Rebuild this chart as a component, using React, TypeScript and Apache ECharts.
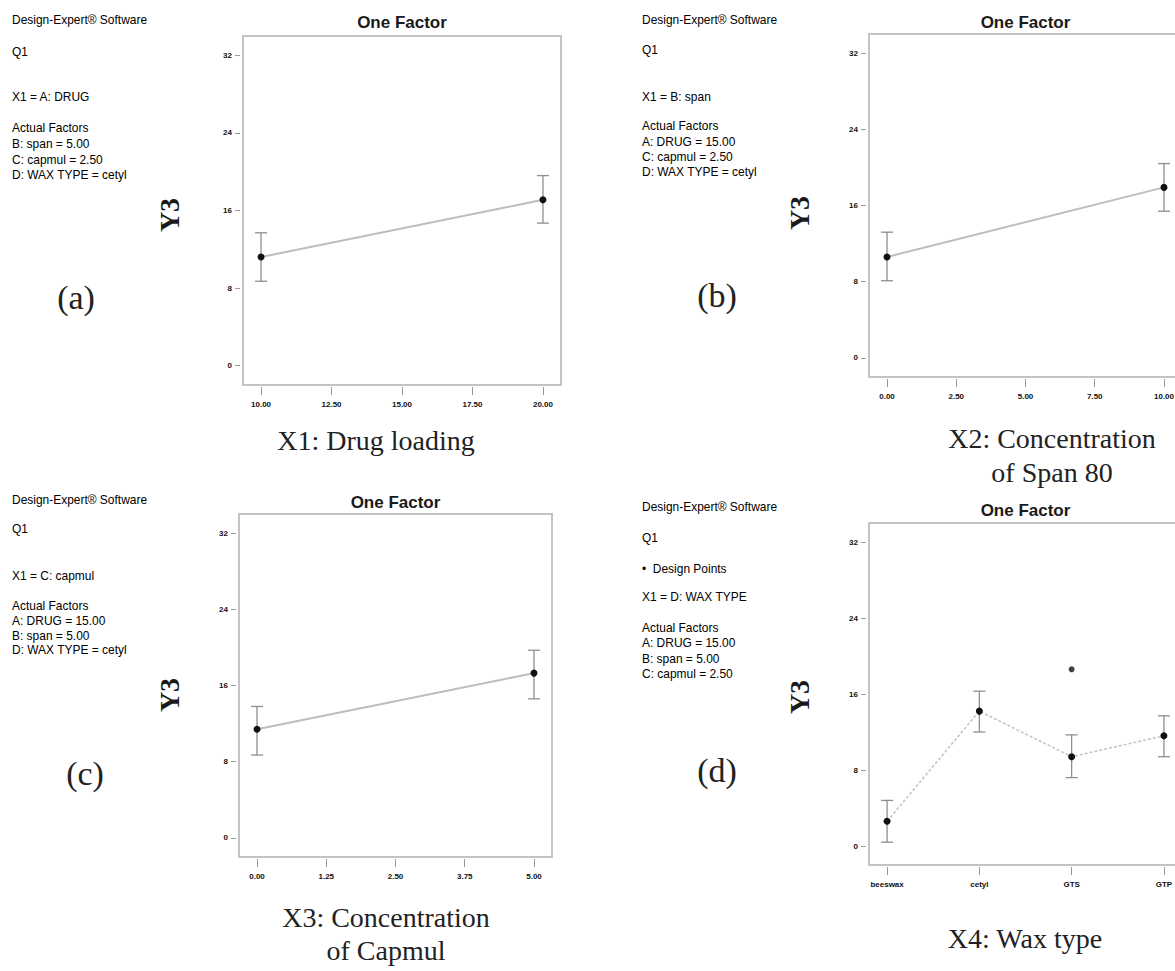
import React, { useEffect, useRef } from "react";
import * as echarts from "echarts";

// ---- data ----
const yTicks = [0, 8, 16, 24, 32];

const drugTicks = [10, 12.5, 15, 17.5, 20];
const drugLevels = [10, 20];
const drugY3 = [11.2, 17.1];
const drugLow = [8.7, 14.7];
const drugHigh = [13.7, 19.6];

const spanTicks = [0, 2.5, 5, 7.5, 10];
const spanLevels = [0, 10];
const spanY3 = [10.6, 17.9];
const spanLow = [8.1, 15.4];
const spanHigh = [13.2, 20.4];

const capmulTicks = [0, 1.25, 2.5, 3.75, 5];
const capmulLevels = [0, 5];
const capmulY3 = [11.4, 17.3];
const capmulLow = [8.7, 14.6];
const capmulHigh = [13.8, 19.7];

const waxTypes = ["beeswax", "cetyl", "GTS", "GTP"];
const waxY3 = [2.6, 14.2, 9.4, 11.6];
const waxLow = [0.4, 12.0, 7.2, 9.4];
const waxHigh = [4.8, 16.3, 11.7, 13.7];
const designPointWax = ["GTS"];
const designPointY3 = [18.6];

const infoA = ["Design-Expert® Software", "Q1", "X1 = A: DRUG", "Actual Factors", "B: span = 5.00", "C: capmul = 2.50", "D: WAX TYPE = cetyl"];
const infoB = ["Design-Expert® Software", "Q1", "X1 = B: span", "Actual Factors", "A: DRUG = 15.00", "C: capmul = 2.50", "D: WAX TYPE = cetyl"];
const infoC = ["Design-Expert® Software", "Q1", "X1 = C: capmul", "Actual Factors", "A: DRUG = 15.00", "B: span = 5.00", "D: WAX TYPE = cetyl"];
const infoD = ["Design-Expert® Software", "Q1", "\u2022  Design Points", "X1 = D: WAX TYPE", "Actual Factors", "A: DRUG = 15.00", "B: span = 5.00", "C: capmul = 2.50"];

// ---- layout (positions / styles) ----
const panels = [
  { left: 243, top: 36, width: 318, height: 349, xmin: 9.36, xmax: 20.64 },
  { left: 869, top: 34, width: 313, height: 343, xmin: -0.65, xmax: 10.65 },
  { left: 239, top: 514, width: 313, height: 343, xmin: -0.325, xmax: 5.325 },
  { left: 869, top: 523, width: 313, height: 342, xmin: -0.196, xmax: 3.196 },
];
const infoLayout = [
  { x: 12, ys: [20, 52, 97, 128, 144, 160, 175], lines: infoA },
  { x: 642, ys: [20, 50, 97, 126, 142, 157, 172], lines: infoB },
  { x: 12, ys: [500, 529, 576, 606, 621, 636, 650], lines: infoC },
  { x: 642, ys: [507, 538, 569, 597, 628, 643, 659, 674], lines: infoD },
];

const SANS = "'Liberation Sans', Arial, sans-serif";
const SERIF = "'Liberation Serif', 'Times New Roman', serif";

function zip3(xs: number[], lo: number[], hi: number[]) {
  return xs.map((x, i) => [x, lo[i], hi[i]]);
}
function zip2(xs: number[], ys: number[]) {
  return xs.map((x, i) => [x, ys[i]]);
}

export default function App() {
  const ref = useRef<HTMLDivElement>(null);
  useEffect(() => {
    if (!ref.current) return;
    const chart = echarts.init(ref.current, undefined, { renderer: "svg" });

    const xTickSets = [drugTicks, spanTicks, capmulTicks, waxTypes.map((_, i) => i)];
    const xFormatters = [
      (v: number) => v.toFixed(2),
      (v: number) => v.toFixed(2),
      (v: number) => v.toFixed(2),
      (v: number) => waxTypes[Math.round(v)] ?? "",
    ];

    const grids = panels.map((p) => ({
      left: p.left,
      top: p.top,
      width: p.width,
      height: p.height,
      show: true,
      borderColor: "#c4c4c4",
      borderWidth: 2,
      backgroundColor: "transparent",
      containLabel: false,
      outerBoundsMode: "none",
    }));

    const xAxes = panels.map((p, i) => ({
      type: "value",
      gridIndex: i,
      position: "bottom",
      min: p.xmin,
      max: p.xmax,
      offset: 2,
      axisLine: { show: false, onZero: false },
      axisTick: { show: true, length: 8, customValues: xTickSets[i], lineStyle: { color: "#9a9a9a", width: 1 } },
      axisLabel: {
        customValues: xTickSets[i],
        formatter: xFormatters[i],
        fontSize: 8,
        fontWeight: "bold",
        color: "#111",
        margin: 13,
        fontFamily: SANS,
      },
      splitLine: { show: false },
    }));

    const yAxes = panels.map((_, i) => ({
      type: "value",
      gridIndex: i,
      position: "left",
      min: -2,
      max: 34,
      offset: 3,
      axisLine: { show: false, onZero: false },
      axisTick: { show: true, length: 5, customValues: yTicks, lineStyle: { color: "#9a9a9a", width: 1 } },
      axisLabel: {
        customValues: yTicks,
        fontSize: 8,
        fontWeight: "bold",
        color: "#111",
        margin: 8,
        fontFamily: SANS,
      },
      splitLine: { show: false },
    }));

    const errorRender = (params: any, api: any) => {
      const x = api.value(0);
      const lo = api.coord([x, api.value(1)]);
      const hi = api.coord([x, api.value(2)]);
      const w = 6;
      const style = { stroke: "#8e8e8e", lineWidth: 1.3 };
      return {
        type: "group",
        children: [
          { type: "line", shape: { x1: lo[0], y1: lo[1], x2: hi[0], y2: hi[1] }, style },
          { type: "line", shape: { x1: lo[0] - w, y1: lo[1], x2: lo[0] + w, y2: lo[1] }, style },
          { type: "line", shape: { x1: hi[0] - w, y1: hi[1], x2: hi[0] + w, y2: hi[1] }, style },
        ],
      };
    };

    const waxIdx = waxTypes.map((_, i) => i);
    const panelData = [
      { line: zip2(drugLevels, drugY3), err: zip3(drugLevels, drugLow, drugHigh), dashed: false },
      { line: zip2(spanLevels, spanY3), err: zip3(spanLevels, spanLow, spanHigh), dashed: false },
      { line: zip2(capmulLevels, capmulY3), err: zip3(capmulLevels, capmulLow, capmulHigh), dashed: false },
      { line: zip2(waxIdx, waxY3), err: zip3(waxIdx, waxLow, waxHigh), dashed: true },
    ];

    const series: any[] = [];
    panelData.forEach((d, i) => {
      series.push({
        type: "custom",
        xAxisIndex: i,
        yAxisIndex: i,
        renderItem: errorRender,
        encode: { x: 0, y: [1, 2] },
        data: d.err,
        z: 1,
        silent: true,
      });
      series.push({
        type: "line",
        xAxisIndex: i,
        yAxisIndex: i,
        data: d.line,
        symbol: "circle",
        symbolSize: 7,
        itemStyle: { color: "#111" },
        lineStyle: d.dashed
          ? { color: "#c6c6c6", width: 1.6, type: [3, 2] }
          : { color: "#bdbdbd", width: 2 },
        z: 2,
      });
    });
    series.push({
      type: "scatter",
      xAxisIndex: 3,
      yAxisIndex: 3,
      data: designPointWax.map((w, i) => [waxTypes.indexOf(w), designPointY3[i]]),
      symbol: "circle",
      symbolSize: 6,
      itemStyle: { color: "#111" },
      z: 3,
    });

    const graphic: any[] = [];
    // titles
    const titleYs = [22, 22, 502, 510];
    panels.forEach((p, i) => {
      graphic.push({
        type: "text",
        x: p.left + p.width / 2,
        y: titleYs[i],
        style: { text: "One Factor", font: `bold 17px ${SANS}`, fill: "#1a1a1a", align: "center", verticalAlign: "middle" },
      });
    });
    // info blocks
    infoLayout.forEach((b) => {
      b.lines.forEach((t, k) => {
        graphic.push({
          type: "text",
          x: b.x,
          y: b.ys[k],
          scaleX: 0.92,
          style: { text: t, font: `13px ${SANS}`, fill: "#000", align: "left", verticalAlign: "middle" },
        });
      });
    });
    // Y3 axis names
    const y3Pos = [[169, 215], [799, 213], [169, 695], [799, 697]];
    y3Pos.forEach(([x, y]) => {
      graphic.push({
        type: "text",
        x,
        y,
        rotation: Math.PI / 2,
        style: { text: "Y3", font: `bold 28px ${SERIF}`, fill: "#1a1a1a", align: "center", verticalAlign: "middle" },
      });
    });
    // panel letters
    const letters = [["(a)", 76, 297], ["(b)", 717, 295], ["(c)", 85, 773], ["(d)", 717, 770]];
    letters.forEach(([t, x, y]) => {
      graphic.push({
        type: "text",
        x,
        y,
        style: { text: t, font: `34px ${SERIF}`, fill: "#222", align: "center", verticalAlign: "middle" },
      });
    });
    // captions
    const captions = [
      ["X1: Drug loading", 376, 440],
      ["X2: Concentration", 1052, 438],
      ["of Span 80", 1052, 472],
      ["X3: Concentration", 386, 917],
      ["of Capmul", 386, 950],
      ["X4: Wax type", 1025, 938],
    ];
    captions.forEach(([t, x, y]) => {
      graphic.push({
        type: "text",
        x,
        y,
        style: { text: t, font: `28px ${SERIF}`, fill: "#222", align: "center", verticalAlign: "middle" },
      });
    });

    chart.setOption({
      animation: false,
      backgroundColor: "#ffffff",
      grid: grids,
      xAxis: xAxes,
      yAxis: yAxes,
      series,
      graphic,
    });
    return () => chart.dispose();
  }, []);

  return (
    <div
      ref={ref}
      style={{ position: "absolute", left: 0, top: 0, width: 1175, height: 971, background: "#fff" }}
    />
  );
}
